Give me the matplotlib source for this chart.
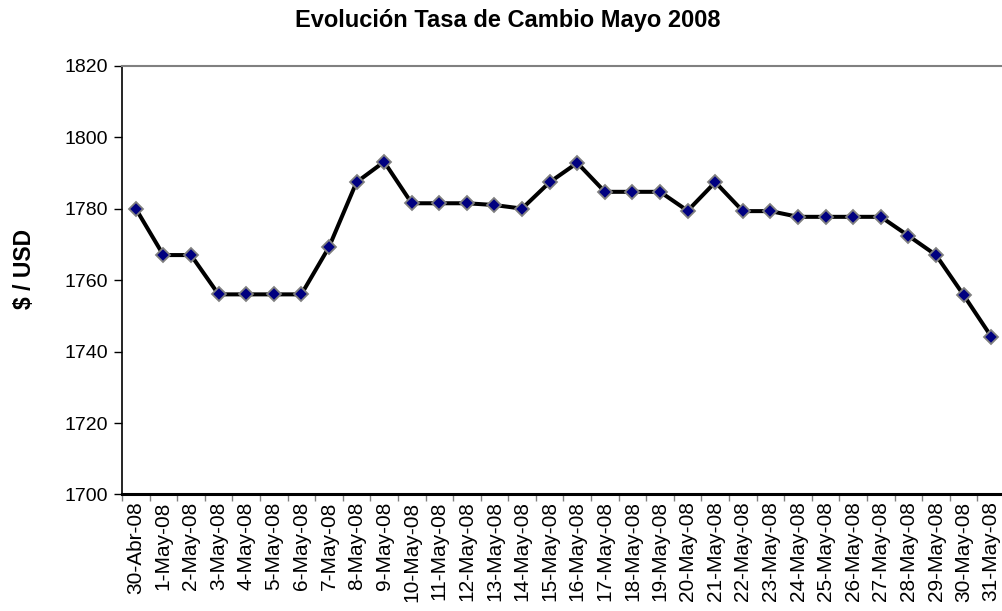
import numpy as np
import matplotlib
matplotlib.use('Agg')
from matplotlib import pyplot as plt

plt.rcParams['font.family'] = ['Liberation Sans', 'DejaVu Sans']

# peso / dollar rate, one value per day
dias = ['30-Abr-08'] + ['%d-May-08' % d for d in range(1, 32)]
tasa = [1780.0, 1767.0, 1767.0, 1756.0, 1756.0, 1756.0, 1756.0, 1769.2,
        1787.4, 1793.1, 1781.5, 1781.5, 1781.5, 1781.0, 1780.0, 1787.4,
        1792.8, 1784.7, 1784.7, 1784.7, 1779.4, 1787.4, 1779.3, 1779.3,
        1777.7, 1777.7, 1777.7, 1777.7, 1772.4, 1767.0, 1755.8, 1744.2]
y_ticks = [1700, 1720, 1740, 1760, 1780, 1800, 1820]

fig = plt.figure(figsize=(10.03, 6.11), dpi=100)
ax = fig.add_axes([0.1216, 0.1907, 0.8804, 0.7018])

x = np.arange(len(dias))
ax.plot(x, tasa, color='black', lw=2.9, marker='D', ms=7,
        mfc='#000080', mec='#808080', mew=1.3, zorder=3)

ax.set_xlim(-0.5, len(dias) - 0.5)
ax.set_ylim(1700, 1820)
ax.set_yticks(y_ticks)

# labels at the category centres, tick marks between categories
ax.set_xticks(x)
ax.set_xticklabels(dias, rotation=90)
ax.set_xticks(x - 0.5, minor=True)
ax.tick_params(axis='x', which='major', length=0, pad=5, labelsize=15)
ax.tick_params(axis='x', which='minor', length=5, color='#808080', width=1)
ax.tick_params(axis='y', length=6, width=1, pad=4, labelsize=14)

ax.spines['left'].set_linewidth(1.2)
ax.spines['bottom'].set_linewidth(2.2)
ax.spines['top'].set_color('#808080')
ax.spines['top'].set_linewidth(1.5)
ax.spines['right'].set_visible(False)

fig.text(508 / 1003, 1 - 20 / 611, 'Evolución Tasa de Cambio Mayo 2008',
         ha='center', va='center', fontsize=17, fontweight='bold')
fig.text(25 / 1003, 1 - 269 / 611, '$ / USD', rotation=90,
         ha='center', va='center', fontsize=16.5, fontweight='bold')

fig.savefig('out.png', dpi=100)
